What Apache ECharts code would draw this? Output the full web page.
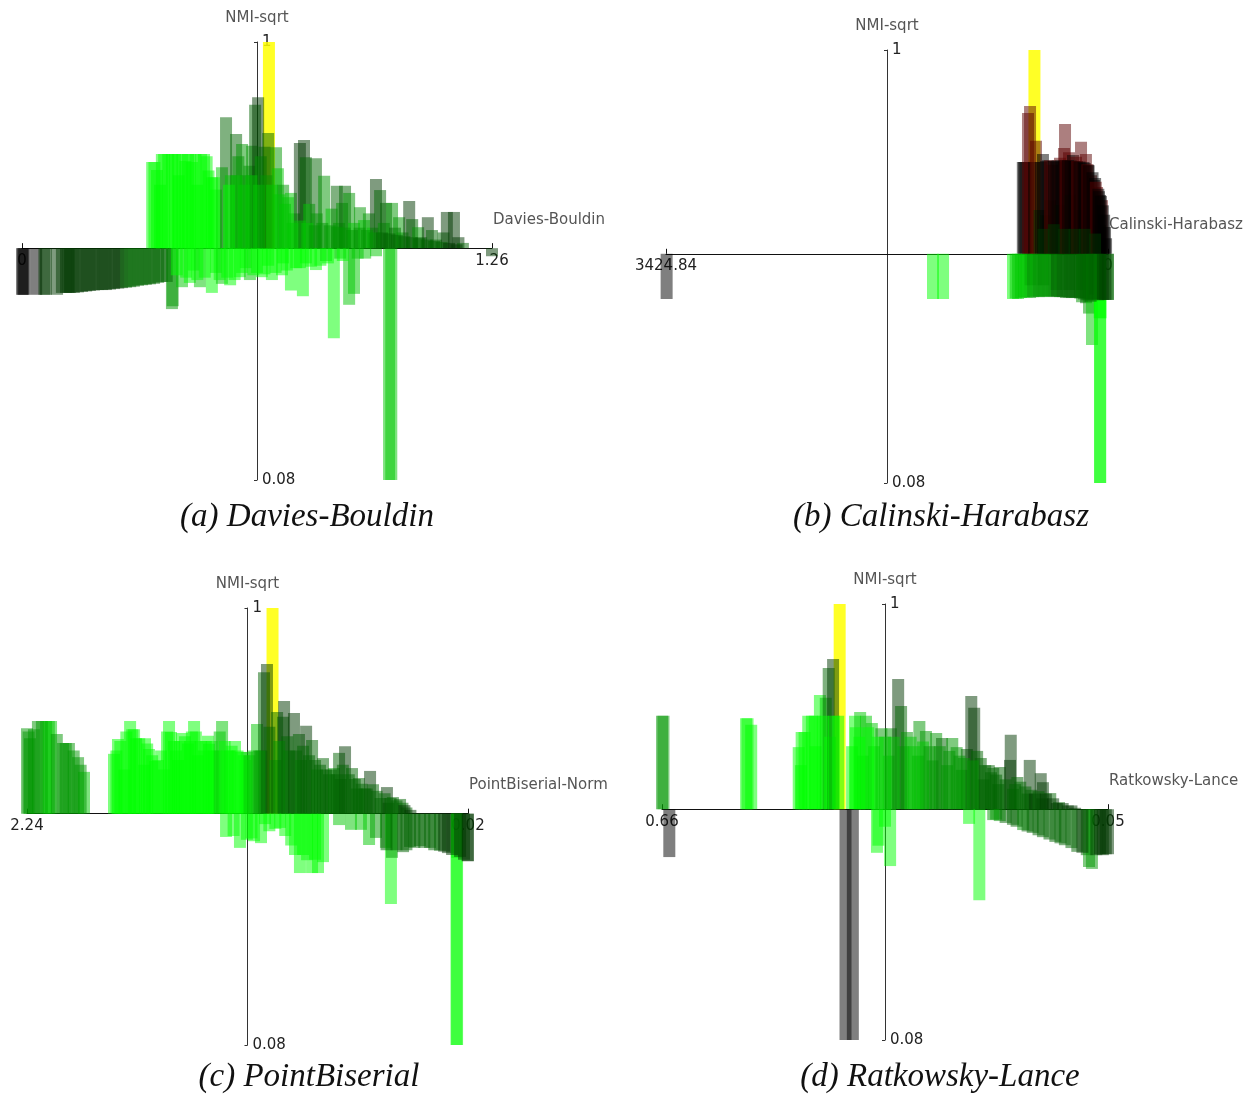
<!DOCTYPE html>
<html>
<head>
<meta charset="utf-8">
<script src="https://cdn.jsdelivr.net/npm/echarts/dist/echarts.min.js"></script>
<style>
  html, body { margin: 0; padding: 0; background: #ffffff; }
  #chart { width: 1259px; height: 1095px; }
</style>
</head>
<body>
<div id="chart"></div>
<script>
// NMI-sqrt scale shared by every panel, and the level the horizontal axis sits at
const nmiRange = [0.08, 1];
const nmiSplit = 0.567;

// Group codes: 0..5 = shades from bright green to black, 6 = dark red, 7 = best clustering

// (a) Davies-Bouldin
const dbRange = [0, 1.26];
const dbValue = [
  0.662,
  0.000,0.003,0.006,0.038,0.060,0.064,0.094,0.118,0.125,0.139,
  0.161,0.182,0.204,0.225,0.247,0.268,0.290,0.311,0.332,0.354,
  0.375,0.402,0.404,0.429,0.450,0.460,0.477,0.509,0.520,0.536,
  0.558,0.584,0.600,0.611,0.643,0.660,0.670,0.697,0.700,0.721,
  0.735,0.753,0.761,0.788,0.815,0.836,0.853,0.877,0.890,0.949,
  0.984,0.990,1.260,
  0.349,0.362,0.370,0.381,0.402,0.418,0.420,0.445,0.456,0.470,
  0.488,0.509,0.520,0.536,0.547,0.560,0.574,0.580,0.590,0.600,
  0.610,0.617,0.625,0.633,0.640,0.650,0.660,0.681,0.686,0.700,
  0.713,0.721,0.730,0.745,0.756,0.761,0.770,0.788,0.790,0.810,
  0.830,0.844,0.850,0.858,0.866,0.877,0.890,0.906,0.917,0.930,
  0.940,0.949,0.960,0.970,0.976,0.992,1.000,1.011,1.020,1.038,
  1.046,1.062,1.070,1.088,1.099,1.110,1.130,1.139,1.158,1.170,
  1.182,
  0.107,0.129,0.150,0.172,0.193,0.215,0.236,0.258,0.279,0.300,0.322,0.343,0.365,0.388,
  0.355,0.375,0.392,0.410,0.430,0.438,0.450,0.465,0.480,0.495,0.500,0.515,
  0.415,0.440,0.470,0.490,0.530,0.550,0.570,0.590,0.620,0.630,0.650,0.680,0.710,0.745,0.775,0.800,0.820,0.860,0.900,0.920,
  0.725,0.745,0.765,0.785,0.805,0.825,0.845,0.865,0.885,0.905,0.925,0.945,0.965,0.985,1.005,1.025,1.045,1.065,1.085,1.105,1.125,1.145,1.165,
  0.555,0.575,0.595,0.615,0.635,0.655,0.670,0.690,0.705
];
const dbNmi = [
  1.000,
  0.469,0.469,0.469,0.469,0.469,0.469,0.469,0.473,0.473,0.473,
  0.475,0.477,0.479,0.479,0.481,0.483,0.485,0.488,0.490,0.492,
  0.496,0.439,0.445,0.485,0.494,0.520,0.485,0.473,0.515,0.492,
  0.489,0.506,0.525,0.500,0.506,0.530,0.500,0.510,0.535,0.478,
  0.525,0.466,0.535,0.521,0.540,0.378,0.545,0.448,0.471,0.550,
  0.080,0.080,0.550,
  0.748,0.731,0.700,0.765,0.765,0.765,0.720,0.765,0.748,0.700,
  0.765,0.716,0.690,0.737,0.842,0.720,0.807,0.760,0.786,0.720,
  0.740,0.782,0.868,0.884,0.760,0.780,0.809,0.779,0.735,0.700,
  0.674,0.683,0.640,0.788,0.794,0.758,0.660,0.756,0.640,0.719,
  0.650,0.698,0.620,0.662,0.698,0.683,0.620,0.653,0.626,0.640,
  0.610,0.712,0.689,0.620,0.662,0.662,0.610,0.632,0.600,0.666,
  0.628,0.611,0.590,0.632,0.605,0.585,0.600,0.643,0.643,0.590,
  0.578,
  0.473,0.473,0.474,0.476,0.478,0.479,0.480,0.482,0.484,0.486,0.489,0.491,0.494,0.496,
  0.748,0.765,0.765,0.765,0.765,0.750,0.765,0.765,0.765,0.760,0.730,0.716,
  0.510,0.505,0.500,0.505,0.500,0.505,0.500,0.515,0.510,0.515,0.512,0.515,0.520,0.525,0.528,0.530,0.535,0.540,0.545,0.545,
  0.620,0.625,0.620,0.615,0.620,0.615,0.612,0.610,0.605,0.610,0.605,0.600,0.600,0.598,0.595,0.592,0.590,0.588,0.585,0.582,0.580,0.578,0.575,
  0.700,0.720,0.700,0.720,0.700,0.720,0.700,0.680,0.660
];
const dbGroup = [
  7,
  5,5,5,5,4,4,4,4,4,4,
  4,4,4,4,4,4,3,3,3,3,
  3,2,2,1,0,0,1,0,0,1,
  0,0,0,1,0,0,0,0,0,0,
  0,0,0,0,1,0,1,1,1,1,
  1,1,4,
  0,0,0,0,0,0,0,0,0,0,
  0,0,0,1,3,1,3,2,2,2,
  2,2,3,4,2,3,3,2,1,2,
  1,1,1,4,4,3,1,3,2,2,
  1,3,2,2,3,2,1,2,1,2,
  1,4,3,2,3,2,3,2,2,4,
  3,2,3,4,3,3,3,4,4,4,
  3,
  4,4,4,4,4,4,4,4,3,3,3,3,3,3,
  0,0,0,0,0,0,0,0,0,0,0,0,
  0,0,0,0,0,0,0,0,0,0,0,0,0,0,0,0,0,0,1,1,
  1,1,1,2,2,2,2,2,2,2,2,2,3,3,3,3,3,3,3,3,3,4,4,
  0,1,1,1,1,2,1,1,1
];

// (b) Calinski-Harabasz
const chRange = [0, 3424.84];
const chValue = [
  570,
  3420,1356,1278,736,697,651,604,600,558,511,
  500,465,418,400,372,325,300,279,232,201,
  200,170,147,124,100,64,58,62,60,2,
  0,
  660,651,640,620,604,573,558,530,504,488,
  465,449,434,403,372,372,341,333,302,294,
  271,248,217,209,171,155,140,132,109,85,
  62,62,47,23,
  520,480,450,420,390,360,330,310,290,260,240,220,190,180,160,150,120,100,95,75,70,55,40,30,15,
  500,420,340,260,180,100,
  715,675,630,580,535,490,440,395,350,300,255,215,185,160,135,110,90,75,40,20
];
const chNmi = [
  1.000,
  0.471,0.471,0.471,0.471,0.471,0.475,0.473,0.500,0.477,0.475,
  0.500,0.477,0.475,0.490,0.475,0.473,0.490,0.473,0.473,0.464,
  0.490,0.462,0.440,0.373,0.480,0.430,0.430,0.080,0.080,0.469,
  0.469,
  0.762,0.762,0.762,0.866,0.881,0.762,0.807,0.660,0.779,0.649,
  0.766,0.681,0.756,0.762,0.771,0.671,0.792,0.843,0.783,0.692,
  0.777,0.773,0.660,0.805,0.779,0.756,0.649,0.734,0.724,0.709,
  0.692,0.628,0.681,0.624,
  0.762,0.764,0.766,0.764,0.765,0.766,0.766,0.766,0.765,0.764,0.764,0.763,0.762,0.760,0.757,0.755,0.740,0.728,0.720,0.705,0.700,0.690,0.670,0.650,0.600,
  0.620,0.630,0.620,0.620,0.620,0.610,
  0.472,0.473,0.474,0.475,0.475,0.476,0.476,0.476,0.475,0.474,0.474,0.472,0.470,0.468,0.465,0.470,0.470,0.468,0.469,0.469
];
const chGroup = [
  7,
  5,0,0,0,1,1,2,3,1,2,
  3,2,3,3,2,3,3,3,3,2,
  3,3,2,1,3,0,0,0,0,3,
  3,
  5,5,5,6,6,5,6,4,5,4,
  5,4,6,5,6,4,6,6,6,4,
  5,6,4,6,6,5,4,6,5,6,
  5,4,6,5,
  5,5,6,5,5,5,6,5,5,5,6,5,5,5,6,5,5,5,6,5,5,5,5,5,5,
  4,4,4,4,4,4,
  1,1,1,2,2,2,2,3,3,3,3,3,3,3,3,3,3,3,4,4
];

// (c) PointBiserial
const pbRange = [0.02, 2.24];
const pbValue = [
  1.004,
  2.240,2.225,2.185,2.144,2.119,2.059,2.029,1.983,1.953,1.802,
  1.782,1.750,1.721,1.701,1.691,1.650,1.646,1.626,1.596,1.550,
  1.525,1.515,1.480,1.460,1.419,1.399,1.380,1.329,1.324,1.300,
  1.258,1.220,1.193,1.163,1.133,1.082,1.060,1.047,1.032,1.020,
  0.990,0.981,0.951,0.946,0.920,0.896,0.871,0.860,0.835,0.805,
  0.780,0.750,0.720,0.695,0.669,0.660,0.639,0.604,0.580,0.569,
  0.530,0.513,0.498,0.460,0.428,0.420,0.398,0.362,0.350,0.330,
  1.238,1.168,1.133,1.097,1.062,1.042,0.966,0.891,0.866,0.830,
  0.805,0.775,0.750,0.669,0.609,0.559,0.518,0.483,0.433,0.408,
  0.403,0.347,0.312,0.262,0.211,0.161,0.121,0.075,0.075,0.078,
  0.020,0.022,
  2.232,2.205,2.165,2.130,2.090,2.045,2.005,1.970,
  1.790,1.770,1.740,1.710,1.675,1.635,1.610,1.580,1.565,1.535,1.500,1.490,1.470,1.445,1.430,1.410,1.390,1.365,1.350,1.340,1.310,1.285,1.270,1.245,1.230,1.210,1.180,1.150,1.140,1.120,1.100,
  1.070,0.970,0.930,0.885,0.850,0.820,0.790,0.765,0.735,0.710,0.680,0.650,0.620,0.590,0.555,0.540,0.480,0.440,0.410,0.380,0.340,0.310,
  0.430,0.380,0.330,0.290,0.240,0.190,0.140,0.100,0.060,0.040,
  1.200,1.110,1.020,0.990,0.940,0.910,0.850,0.790
];
const pbNmi = [
  1.000,
  0.747,0.726,0.762,0.762,0.762,0.716,0.716,0.686,0.655,0.693,
  0.724,0.660,0.762,0.745,0.726,0.670,0.726,0.703,0.678,0.660,
  0.762,0.739,0.680,0.737,0.720,0.762,0.690,0.731,0.714,0.700,
  0.762,0.700,0.720,0.697,0.697,0.756,0.700,0.865,0.882,0.750,
  0.680,0.781,0.771,0.804,0.700,0.779,0.735,0.680,0.752,0.722,
  0.660,0.684,0.650,0.663,0.695,0.640,0.709,0.663,0.620,0.642,
  0.620,0.657,0.629,0.600,0.623,0.590,0.602,0.598,0.590,0.580,
  0.518,0.495,0.512,0.509,0.505,0.545,0.537,0.480,0.442,0.469,
  0.442,0.442,0.465,0.543,0.533,0.533,0.501,0.516,0.495,0.377,
  0.474,0.486,0.497,0.499,0.495,0.489,0.484,0.474,0.080,0.080,
  0.467,0.467,
  0.740,0.745,0.762,0.762,0.735,0.716,0.700,0.670,
  0.700,0.720,0.740,0.745,0.726,0.715,0.690,0.680,0.700,0.740,0.720,0.700,0.720,0.730,0.715,0.740,0.740,0.720,0.700,0.720,0.720,0.700,0.740,0.720,0.700,0.710,0.700,0.690,0.680,0.690,0.700,
  0.700,0.720,0.730,0.700,0.710,0.690,0.680,0.670,0.660,0.660,0.650,0.670,0.650,0.640,0.630,0.620,0.615,0.610,0.600,0.595,0.585,0.575,
  0.490,0.490,0.490,0.495,0.495,0.490,0.487,0.480,0.476,0.470,
  0.520,0.515,0.530,0.535,0.520,0.500,0.480,0.470
];
const pbGroup = [
  7,
  2,2,2,1,1,2,2,2,1,0,
  0,0,0,0,0,0,0,0,0,0,
  0,0,0,0,0,0,0,0,0,0,
  1,1,0,0,1,1,2,3,4,3,
  2,3,3,4,2,4,3,2,4,3,
  2,3,3,2,3,3,4,3,3,3,
  3,4,3,3,4,4,3,3,3,3,
  0,0,0,0,0,0,0,0,0,0,
  0,0,0,1,1,1,1,2,2,0,
  2,3,3,3,3,3,4,1,0,0,
  4,4,
  2,2,2,1,2,2,2,2,
  0,0,0,0,0,0,0,0,0,0,0,0,0,0,0,0,0,0,0,0,0,0,1,0,0,0,0,0,0,1,1,
  2,2,3,3,3,3,3,3,3,3,3,3,3,3,3,3,3,3,3,3,4,4,
  3,3,3,3,3,3,4,4,4,4,
  0,0,0,0,0,0,0,0
];

// (d) Ratkowsky-Lance
const rlRange = [0.05, 0.66];
const rlValue = [
  0.417,
  0.660,0.658,0.545,0.543,0.538,0.473,0.470,0.469,0.460,0.451,
  0.450,0.444,0.436,0.432,0.430,0.426,0.419,0.400,0.396,0.389,
  0.385,0.381,0.373,0.370,0.360,0.350,0.347,0.337,0.333,0.330,
  0.325,0.310,0.308,0.299,0.290,0.285,0.277,0.270,0.263,0.257,
  0.250,0.243,0.237,0.233,0.229,0.224,0.220,0.213,0.207,0.200,
  0.198,0.184,0.183,0.180,0.174,0.160,0.157,0.155,0.142,0.140,
  0.139,0.129,0.120,0.117,0.100,
  0.650,0.409,0.399,0.366,0.364,0.355,0.348,0.240,
  0.226,0.207,0.198,0.180,0.166,0.153,0.139,0.122,0.109,0.092,
  0.079,0.076,0.072,0.061,0.053,0.050,
  0.465,0.455,0.440,0.425,
  0.395,0.390,0.378,0.365,0.355,0.343,0.320,0.315,0.303,0.294,0.280,0.267,0.253,0.247,0.235,0.218,0.210,0.203,0.190,0.177,0.170,0.163,0.150,0.145,0.135,0.125,0.112,0.105,0.095,
  0.203,0.190,0.175,0.160,0.145,0.130,0.115,0.100,0.085,0.066,0.057
];
const rlNmi = [
  1.000,
  0.764,0.764,0.759,0.759,0.745,0.698,0.660,0.730,0.764,0.764,
  0.700,0.808,0.802,0.865,0.720,0.884,0.764,0.700,0.764,0.772,
  0.680,0.764,0.749,0.700,0.738,0.680,0.738,0.842,0.785,0.700,
  0.730,0.680,0.753,0.732,0.670,0.728,0.717,0.660,0.717,0.698,
  0.650,0.694,0.806,0.781,0.690,0.675,0.630,0.660,0.654,0.620,
  0.656,0.671,0.724,0.610,0.635,0.600,0.671,0.608,0.643,0.590,
  0.624,0.601,0.580,0.582,0.575,
  0.466,0.080,0.080,0.475,0.490,0.530,0.447,0.536,
  0.375,0.544,0.542,0.534,0.523,0.517,0.508,0.498,0.491,0.477,
  0.470,0.445,0.441,0.472,0.472,0.472,
  0.730,0.764,0.764,0.764,
  0.740,0.720,0.740,0.720,0.720,0.720,0.720,0.700,0.710,0.700,0.700,0.690,0.680,0.675,0.670,0.660,0.645,0.640,0.630,0.620,0.625,0.615,0.600,0.605,0.600,0.590,0.580,0.575,0.570,
  0.545,0.538,0.530,0.520,0.512,0.503,0.495,0.485,0.475,0.470,0.470
];
const rlGroup = [
  7,
  2,2,0,0,0,0,0,0,0,0,
  0,0,1,3,0,4,0,0,0,1,
  1,1,1,1,2,1,2,4,3,2,
  2,2,2,2,2,2,3,2,2,2,
  2,3,4,4,3,3,3,3,3,3,
  3,4,4,3,3,3,4,3,4,4,
  4,3,4,3,4,
  5,5,5,0,0,0,0,0,
  0,2,2,3,2,3,3,3,3,3,
  3,2,2,4,4,4,
  0,0,0,0,
  0,0,0,0,1,1,1,1,1,2,2,2,2,2,2,3,3,3,3,3,3,3,4,3,4,4,4,4,4,
  2,3,3,3,3,3,3,3,4,4,4
];

// ---- drawing ----
const PALETTE = [
  'rgba(0,255,0,0.5)',
  'rgba(0,200,0,0.5)',
  'rgba(0,150,0,0.5)',
  'rgba(0,100,0,0.5)',
  'rgba(0,55,0,0.5)',
  'rgba(0,0,0,0.5)',
  'rgba(90,0,0,0.5)',
  'rgba(255,255,0,0.85)'
];
const BAR_PX = 12;
const SANS = 'DejaVu Sans';

const panels = [
  { name: 'Davies-Bouldin', caption: '(a) Davies-Bouldin', range: dbRange, inverse: false,
    value: dbValue, nmi: dbNmi, group: dbGroup,
    rect: { left: 22, top: 42, width: 470, height: 438 }, cap: [307, 517] },
  { name: 'Calinski-Harabasz', caption: '(b) Calinski-Harabasz', range: chRange, inverse: true,
    value: chValue, nmi: chNmi, group: chGroup,
    rect: { left: 666, top: 50, width: 442, height: 433 }, cap: [941, 517] },
  { name: 'PointBiserial-Norm', caption: '(c) PointBiserial', range: pbRange, inverse: true,
    value: pbValue, nmi: pbNmi, group: pbGroup,
    rect: { left: 27, top: 608, width: 441, height: 437 }, cap: [309, 1077] },
  { name: 'Ratkowsky-Lance', caption: '(d) Ratkowsky-Lance', range: rlRange, inverse: true,
    value: rlValue, nmi: rlNmi, group: rlGroup,
    rect: { left: 662, top: 604, width: 446, height: 436 }, cap: [940, 1077] }
];

panels.forEach((p) => {
  if (p.value.length !== p.nmi.length || p.value.length !== p.group.length) {
    throw new Error(p.name + ': ' + p.value.length + '/' + p.nmi.length + '/' + p.group.length);
  }
});

function renderBar(params, api) {
  const x = api.value(0);
  const v = api.value(1);
  const g = api.value(2);
  const a = api.coord([x, nmiSplit]);
  const b = api.coord([x, v]);
  return {
    type: 'rect',
    shape: {
      x: a[0] - BAR_PX / 2,
      y: Math.min(a[1], b[1]),
      width: BAR_PX,
      height: Math.abs(b[1] - a[1])
    },
    style: { fill: PALETTE[g] }
  };
}

const grid = [], xAxis = [], yAxis = [], series = [], graphic = [];

panels.forEach((p, i) => {
  grid.push({
    left: p.rect.left, top: p.rect.top, width: p.rect.width, height: p.rect.height,
    containLabel: false, outerBoundsMode: 'none'
  });
  // the horizontal axis sits at nmiSplit, the vertical one at the middle of the index range
  const splitFrac = (nmiSplit - nmiRange[0]) / (nmiRange[1] - nmiRange[0]);
  xAxis.push({
    gridIndex: i, type: 'value', min: p.range[0], max: p.range[1], inverse: p.inverse,
    position: 'bottom', offset: -p.rect.height * splitFrac,
    axisLine: { show: true, onZero: false, lineStyle: { color: '#111', width: 1 } },
    axisTick: { show: true, customValues: p.range, inside: true, length: 5, lineStyle: { color: '#111' } },
    axisLabel: { show: true, customValues: p.range, color: '#222', fontSize: 15, fontFamily: SANS,
                 margin: 5, formatter: (v) => String(v) },
    splitLine: { show: false },
    name: p.name, nameLocation: p.inverse ? 'start' : 'end', nameGap: 1,
    nameTextStyle: { color: '#555', fontSize: 15, fontFamily: SANS,
                     verticalAlign: 'bottom', padding: [0, 0, 21, 0] }
  });
  yAxis.push({
    gridIndex: i, type: 'value', min: nmiRange[0], max: nmiRange[1],
    position: 'left', offset: -p.rect.width / 2,
    axisLine: { show: true, onZero: false, lineStyle: { color: '#333', width: 1 } },
    axisTick: { show: true, customValues: nmiRange, length: 3, lineStyle: { color: '#333' } },
    axisLabel: { show: true, customValues: nmiRange, inside: true, margin: 5, color: '#222',
                 fontSize: 15, fontFamily: SANS, formatter: (v) => String(v) },
    splitLine: { show: false },
    name: 'NMI-sqrt', nameLocation: 'end', nameGap: 16,
    nameTextStyle: { color: '#555', fontSize: 15, fontFamily: SANS }
  });
  series.push({
    type: 'custom', xAxisIndex: i, yAxisIndex: i, silent: true, clip: false,
    renderItem: renderBar,
    encode: { x: 0, y: 1 },
    data: p.value.map((v, k) => [v, p.nmi[k], p.group[k]])
  });
  graphic.push({
    type: 'text', x: p.cap[0], y: p.cap[1],
    style: { text: p.caption, font: 'italic 33px "Liberation Serif"', fill: '#111',
             align: 'center', verticalAlign: 'middle' }
  });
});

const chart = echarts.init(document.getElementById('chart'), null, { renderer: 'canvas' });
chart.setOption({
  animation: false,
  backgroundColor: '#ffffff',
  grid, xAxis, yAxis, series, graphic
});
</script>
</body>
</html>
